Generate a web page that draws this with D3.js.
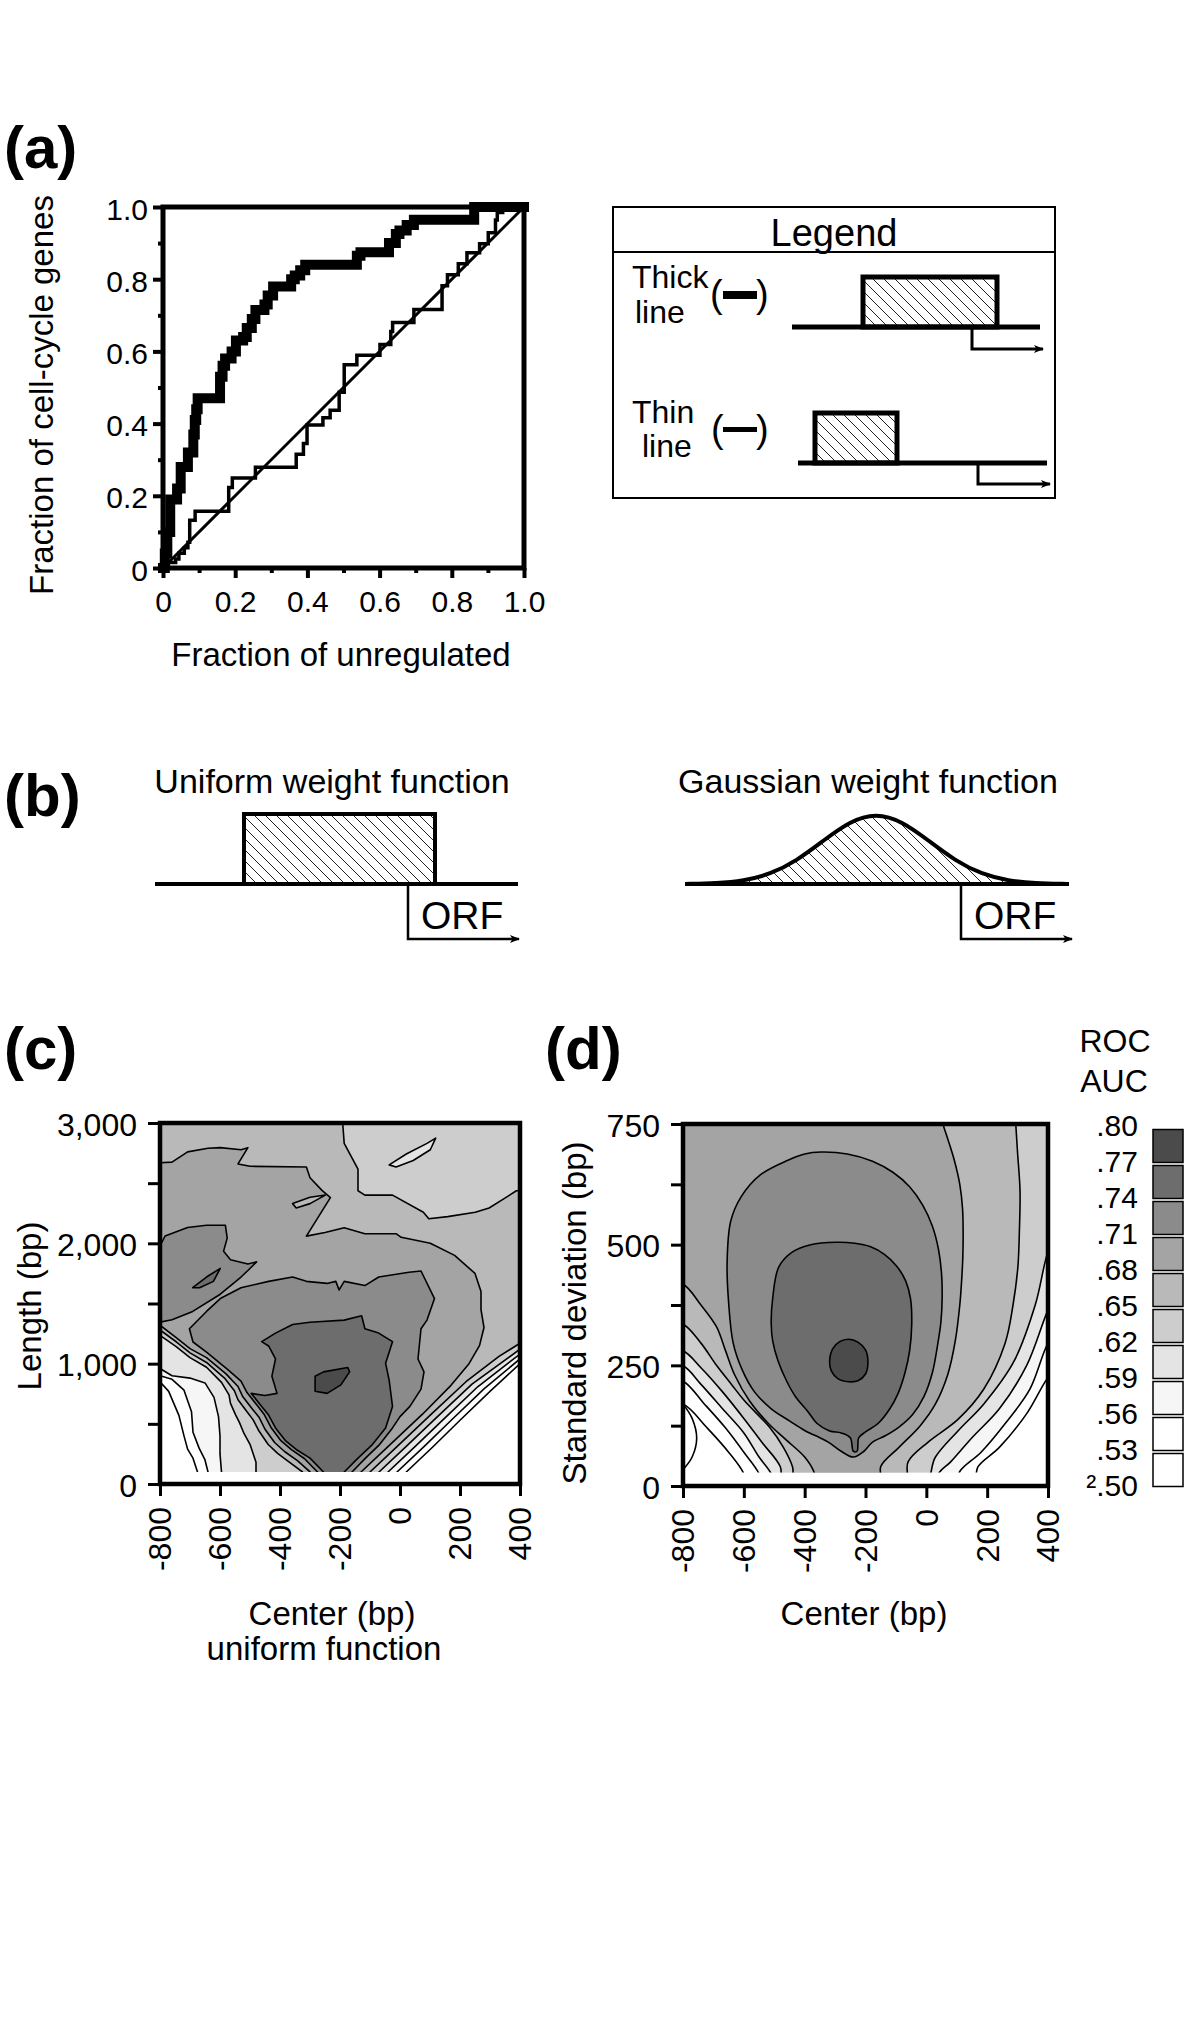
<!DOCTYPE html>
<html><head><meta charset="utf-8">
<script src="https://cdn.jsdelivr.net/npm/d3@7"></script>
<style>body{margin:0;background:#fff}svg{display:block}</style>
</head><body><svg id="fig" width="1200" height="2032"></svg>
<script>
// ================= DATA =================
// (a) ROC curves (step points: x where the jump happens, new y)
const rocTicks=[0,0.2,0.4,0.6,0.8,1.0];
const rocTickLabels=["0","0.2","0.4","0.6","0.8","1.0"];
const rocMinor=[0.1,0.3,0.5,0.7,0.9];
const thickFPR=[0,0.005,0.012,0.020,0.039,0.049,0.069,0.084,0.088,0.092,0.096,0.158,0.165,0.172,0.190,0.202,0.222,0.232,0.246,0.256,0.281,0.290,0.305,0.355,0.365,0.380,0.394,0.537,0.547,0.626,0.645,0.655,0.675,0.695,0.862,1.0];
const thickTPR=[0,0.04,0.10,0.19,0.22,0.28,0.32,0.37,0.41,0.44,0.47,0.53,0.56,0.58,0.60,0.63,0.64,0.665,0.69,0.715,0.73,0.755,0.78,0.80,0.81,0.825,0.84,0.865,0.875,0.90,0.925,0.935,0.95,0.965,1.0,1.0];
const thinFPR=[0,0.015,0.035,0.044,0.059,0.069,0.074,0.089,0.182,0.192,0.256,0.369,0.389,0.399,0.443,0.463,0.488,0.502,0.537,0.601,0.631,0.636,0.695,0.773,0.788,0.818,0.842,0.877,0.901,0.921,0.926,0.941,1.0];
const thinTPR=[0,0.015,0.025,0.041,0.056,0.071,0.132,0.157,0.223,0.249,0.279,0.315,0.345,0.396,0.416,0.437,0.487,0.563,0.589,0.619,0.655,0.680,0.716,0.782,0.812,0.843,0.873,0.898,0.929,0.964,0.985,1.0,1.0];
const diagFPR=[0,1], diagTPR=[0,1];

// (b) gaussian weight function samples (offset in sd units, relative weight)
const gaussU=[-3.6,-3,-2.5,-2,-1.5,-1,-0.5,0,0.5,1,1.5,2,2.5,3,3.6];
const gaussW=[0,0.011,0.044,0.135,0.325,0.607,0.882,1,0.882,0.607,0.325,0.135,0.044,0.011,0];

// (c),(d) axes
const centerTicks=[-800,-600,-400,-200,0,200,400];
const lengthTicks=[0,1000,2000,3000];
const lengthMinor=[500,1500,2500];
const sdTicks=[0,250,500,750];
const sdMinor=[125,375,625];

// ROC AUC colour key
const aucLevels=[0.50,0.53,0.56,0.59,0.62,0.65,0.68,0.71,0.74,0.77,0.80];
const aucLabels=[".80",".77",".74",".71",".68",".65",".62",".59",".56",".53","\u00B2.50"];
const bandColors=["#ffffff","#ffffff","#f6f6f6","#e4e4e4","#cdcdcd","#b9b9b9","#a4a4a4","#8b8b8b","#6d6d6d","#4b4b4b"];

// (c) uniform function: contour boundaries, [center bp, length bp]
const lb53=[[-800,850],[-771,770],[-737,570],[-720,400],[-708,290],[-690,215],[-675,100]];
const lb56=[[-800,900],[-760,870],[-720,780],[-695,600],[-690,430],[-670,300],[-650,200],[-640,100]];
const lb59=[[-800,960],[-760,900],[-700,880],[-650,840],[-620,720],[-605,560],[-600,400],[-600,250],[-595,100]];
const lb62=[[-800,1235],[-745,1140],[-700,1050],[-645,970],[-595,845],[-570,740],[-565,670],[-548,575],[-535,510],[-520,420],[-500,330],[-490,255],[-480,180],[-480,100]];
const lb65=[[-800,1280],[-745,1180],[-700,1090],[-645,1010],[-585,880],[-552,775],[-540,700],[-510,600],[-490,535],[-470,440],[-440,330],[-408,255],[-368,180],[-325,100]];
const lb68=[[-800,1320],[-745,1215],[-700,1125],[-645,1050],[-580,915],[-540,810],[-525,730],[-493,625],[-470,555],[-450,455],[-418,345],[-385,270],[-342,195],[-300,100]];
const lb71=[[-702,1290],[-690,1180],[-645,1095],[-576,955],[-530,855],[-510,760],[-475,650],[-452,575],[-430,470],[-397,360],[-362,285],[-318,210],[-275,100]];
const rb53=[[21,100],[110,310],[200,530],[300,770],[400,1000]];
const rb56=[[-10,100],[80,310],[175,540],[280,790],[400,1040]];
const rb59=[[-40,100],[50,310],[150,550],[260,810],[400,1080]];
const rb62=[[-70,100],[20,310],[125,560],[240,830],[400,1120]];
const rb65=[[-100,100],[-10,310],[100,570],[220,850],[330,1060],[400,1170]];
const rb68=[[-130,100],[-40,310],[75,580],[170,820]];
const rb71=[[-160,100],[-115,215],[-70,323],[-25,466],[0,560]];
const top65=[[-850,3050],[-191,3050],[-191,3000],[-186,2831],[-140,2616],[-140,2437],[-117,2401],[-25,2401],[78,2258],[96,2204],[159,2222],[251,2258],[297,2294],[343,2365],[388,2437],[450,2450]];
const top68=[[-850,2670],[-800,2670],[-760,2675],[-708,2760],[-640,2790],[-599,2795],[-530,2778],[-507,2795],[-540,2660],[-500,2640],[-312,2634],[-300,2545],[-260,2440],[-232,2380],[-312,2060],[-250,2090],[-186,2130],[-117,2080],[-13,2080],[4,2050],[101,2000],[182,1900],[250,1750],[270,1600],[270,1450],[280,1300],[265,1150],[230,1000]];
const c71Left=[[-850,2010],[-794,2007],[-783,2061],[-708,2132],[-645,2150],[-582,2150],[-576,2043],[-588,1935],[-565,1864],[-507,1828],[-478,1846],[-507,1774],[-530,1720],[-599,1577],[-691,1434],[-760,1365],[-800,1345],[-850,1345]];
const c71Upper=[[-702,1290],[-645,1434],[-599,1541],[-530,1631],[-438,1684],[-358,1720],[-312,1684],[-243,1667],[-214,1684],[-203,1613],[-186,1684],[-117,1649],[-71,1720],[30,1760],[70,1770],[115,1541],[90,1362],[70,1290],[60,1039],[80,932],[70,788],[33,645]];
const c74=[[-461,1183],[-415,1254],[-358,1326],[-300,1344],[-186,1362],[-128,1398],[-117,1290],[-71,1254],[-25,1183],[-48,1004],[-36,860],[-25,645],[-48,466],[-94,323],[-140,215],[-186,100],[-186,50],[-255,50],[-255,100],[-300,215],[-346,287],[-381,358],[-415,466],[-438,573],[-461,645],[-496,753],[-450,735],[-410,753],[-427,896],[-415,1039],[-438,1147]];
const c74Left=[[-691,1631],[-645,1720],[-599,1792],[-622,1684],[-668,1631]];
const c77=[[-283,896],[-255,932],[-174,968],[-168,932],[-197,824],[-243,753],[-283,771]];
const islandT=[[-36,2652],[21,2742],[90,2831],[119,2874],[101,2778],[44,2688],[-13,2634]];
const island68=[[-358,2330],[-300,2383],[-249,2401],[-300,2330],[-346,2294]];

// (d) gaussian function: contour regions, [center bp, sd bp]
const d53=[[-850,800],[-850,170],[-800,170],[-720,120],[-650,70],[-600,25],[-595,0],[150,0],[170,40],[240,80],[330,150],[400,225],[450,260],[450,800]];
const d56=[[-850,800],[-850,217],[-800,217],[-730,170],[-660,120],[-600,70],[-550,25],[-545,0],[100,0],[110,30],[180,70],[260,130],[340,200],[400,296],[450,340],[450,800]];
const d59=[[-850,800],[-850,249],[-800,249],[-740,210],[-670,160],[-600,110],[-550,60],[-510,25],[-505,0],[40,0],[40,25],[80,50],[150,100],[240,160],[330,250],[400,365],[450,430],[450,800]];
const d62=[[-850,800],[-850,280],[-800,280],[-741,245],[-670,195],[-600,140],[-540,90],[-480,40],[-470,0],[-10,0],[30,60],[104,114],[189,170],[287,257],[358,375],[400,486],[450,560],[450,800]];
const d65=[[-850,800],[-850,335],[-800,335],[-741,296],[-690,250],[-640,210],[-600,178],[-516,122],[-470,80],[-440,40],[-430,0],[-70,0],[-60,50],[6,91],[104,138],[189,201],[259,296],[285,375],[301,454],[306,530],[308,612],[300,690],[294,750],[290,800]];
const d68=[[-850,800],[-850,418],[-800,418],[-741,375],[-690,330],[-660,280],[-630,230],[-580,175],[-520,130],[-460,95],[-400,60],[-370,30],[-360,0],[-150,0],[-150,40],[-90,80],[-20,125],[30,170],[70,230],[95,300],[110,375],[116,425],[120,475],[121,525],[119,575],[110,625],[92,675],[70,720],[55,750],[45,800]];
const d71=[[-346,692],[-260,688],[-177,673],[-110,650],[-55,620],[-12,582],[20,538],[40,490],[50,440],[52,390],[48,340],[38,296],[20,235],[-8,185],[-45,148],[-90,122],[-135,104],[-177,91],[-205,72],[-240,60],[-280,72],[-320,90],[-350,100],[-400,115],[-450,135],[-510,160],[-565,195],[-605,240],[-635,296],[-650,380],[-655,462],[-643,549],[-608,600],[-545,645],[-455,675],[-400,688]];
const d74=[[-297,505],[-235,503],[-185,496],[-138,480],[-98,456],[-68,425],[-52,388],[-48,335],[-55,280],[-70,235],[-92,193],[-120,160],[-158,130],[-200,112],[-222,100],[-228,72],[-240,72],[-250,100],[-280,110],[-318,114],[-360,130],[-389,154],[-430,185],[-459,217],[-488,260],[-505,300],[-510,336],[-505,390],[-485,454],[-440,485],[-380,500]];
const d77=[[-255,304],[-225,298],[-200,282],[-192,257],[-200,232],[-225,218],[-255,216],[-290,222],[-312,238],[-318,257],[-308,284],[-285,299]];
const d50line=[[-800,170],[-770,140],[-755,99],[-770,60],[-797,36]];

// ================= DRAWING =================
const FONT='"Liberation Sans", Arial, Helvetica, sans-serif';
const svg=d3.select('#fig');
const defs=svg.append('defs');
const pat=defs.append('pattern').attr('id','hatch').attr('patternUnits','userSpaceOnUse').attr('width',11).attr('height',11);
pat.append('path').attr('d','M0,0 L11,11 M10,-1 L12,1 M-1,10 L1,12').attr('stroke','#222').attr('stroke-width',1);
defs.append('marker').attr('id','arrow').attr('viewBox','0 0 10 10').attr('refX',9).attr('refY',5)
  .attr('markerWidth',11).attr('markerHeight',10).attr('markerUnits','userSpaceOnUse').attr('orient','auto')
  .append('path').attr('d','M0,1 L10,5 L0,9 L2.5,5 Z').attr('fill','#000');

function text(g,x,y,s,size,opt={}){
  const t=g.append('text').attr('x',x).attr('y',y).attr('font-family',FONT).attr('font-size',size).attr('fill','#000').text(s);
  if(opt.anchor) t.attr('text-anchor',opt.anchor);
  if(opt.weight) t.attr('font-weight',opt.weight);
  if(opt.rotate) t.attr('transform',`rotate(${opt.rotate},${x},${y})`);
  return t;
}
function styleAxis(g,size,sw){
  g.select('.domain').remove();
  g.selectAll('line').attr('stroke','#000').attr('stroke-width',sw);
  g.selectAll('text').attr('font-size',size).attr('font-family',FONT).attr('fill','#000');
}

// ---------- panel (a) ----------
const ax=d3.scaleLinear().domain([0,1]).range([163,524]);
const ay=d3.scaleLinear().domain([0,1]).range([568,207]);
text(svg,4,168,'(a)',60,{weight:'bold'});
const gA=svg.append('g');
gA.append('g').attr('transform','translate(163,0)')
  .call(d3.axisLeft(ay).tickValues(rocMinor).tickSize(5).tickFormat(''))
  .call(g=>styleAxis(g,30,4));
gA.append('g').attr('transform','translate(0,568)')
  .call(d3.axisBottom(ax).tickValues(rocMinor).tickSize(5).tickFormat(''))
  .call(g=>styleAxis(g,30,4));
gA.append('g').attr('transform','translate(163,0)')
  .call(d3.axisLeft(ay).tickValues(rocTicks).tickSize(10).tickPadding(5).tickFormat((d,i)=>rocTickLabels[i]))
  .call(g=>styleAxis(g,30,4)).call(g=>g.selectAll('text').attr('dy','0.4em'));
gA.append('g').attr('transform','translate(0,568)')
  .call(d3.axisBottom(ax).tickValues(rocTicks).tickSize(10).tickPadding(13).tickFormat((d,i)=>rocTickLabels[i]))
  .call(g=>styleAxis(g,30,4));
const stepLine=d3.line().x(d=>ax(d[0])).y(d=>ay(d[1])).curve(d3.curveStepAfter);
gA.append('path').attr('d',d3.line().x(d=>ax(d[0])).y(d=>ay(d[1]))(d3.zip(diagFPR,diagTPR)))
  .attr('fill','none').attr('stroke','#000').attr('stroke-width',3);
gA.append('path').attr('d',stepLine(d3.zip(thinFPR,thinTPR)))
  .attr('fill','none').attr('stroke','#000').attr('stroke-width',3.5).attr('stroke-linejoin','miter');
gA.append('path').attr('d',stepLine(d3.zip(thickFPR,thickTPR)))
  .attr('fill','none').attr('stroke','#000').attr('stroke-width',10).attr('stroke-linejoin','miter').attr('stroke-linecap','square');
gA.append('rect').attr('x',163).attr('y',207).attr('width',361).attr('height',361)
  .attr('fill','none').attr('stroke','#000').attr('stroke-width',5);
text(gA,53,395,'Fraction of cell-cycle genes',33,{anchor:'middle',rotate:-90});
text(gA,341,666,'Fraction of unregulated',33,{anchor:'middle'});

// legend box
const gL=svg.append('g');
gL.append('rect').attr('x',613).attr('y',207).attr('width',442).attr('height',291).attr('fill','none').attr('stroke','#000').attr('stroke-width',2);
gL.append('line').attr('x1',613).attr('x2',1055).attr('y1',252).attr('y2',252).attr('stroke','#000').attr('stroke-width',2);
text(gL,834,246,'Legend',38,{anchor:'middle'});
text(gL,632,288,'Thick',32); text(gL,635,323,'line',32);
text(gL,710,307,'(',38); text(gL,756,307,')',38);
gL.append('rect').attr('x',723).attr('y',291).attr('width',34).attr('height',8).attr('fill','#000');
text(gL,632,423,'Thin',32); text(gL,642,457,'line',32);
text(gL,711,442,'(',38); text(gL,756,442,')',38);
gL.append('rect').attr('x',723).attr('y',427).attr('width',34).attr('height',5).attr('fill','#000');
gL.append('rect').attr('x',863).attr('y',277).attr('width',134).attr('height',50).attr('fill','url(#hatch)').attr('stroke','#000').attr('stroke-width',5);
gL.append('line').attr('x1',792).attr('x2',1040).attr('y1',327).attr('y2',327).attr('stroke','#000').attr('stroke-width',5);
gL.append('path').attr('d','M972,327 V349 H1043').attr('fill','none').attr('stroke','#000').attr('stroke-width',3).attr('marker-end','url(#arrow)');
gL.append('rect').attr('x',815).attr('y',413).attr('width',82).attr('height',50).attr('fill','url(#hatch)').attr('stroke','#000').attr('stroke-width',5);
gL.append('line').attr('x1',798).attr('x2',1047).attr('y1',463).attr('y2',463).attr('stroke','#000').attr('stroke-width',5);
gL.append('path').attr('d','M978,463 V484 H1050').attr('fill','none').attr('stroke','#000').attr('stroke-width',3).attr('marker-end','url(#arrow)');

// ---------- panel (b) ----------
const gB=svg.append('g');
text(gB,4,816,'(b)',60,{weight:'bold'});
text(gB,332,793,'Uniform weight function',34,{anchor:'middle'});
text(gB,868,793,'Gaussian weight function',34,{anchor:'middle'});
gB.append('rect').attr('x',244).attr('y',814).attr('width',191).attr('height',70).attr('fill','url(#hatch)').attr('stroke','#000').attr('stroke-width',4);
gB.append('line').attr('x1',155).attr('x2',518).attr('y1',884).attr('y2',884).attr('stroke','#000').attr('stroke-width',4);
gB.append('path').attr('d','M408,884 V939 H519').attr('fill','none').attr('stroke','#000').attr('stroke-width',2.5).attr('marker-end','url(#arrow)');
text(gB,421,929,'ORF',39);
const gx=d3.scaleLinear().domain([-1,1]).range([876-53,876+53]);
const gy=d3.scaleLinear().domain([0,1]).range([884,813]);
const gLine=d3.line().x(d=>gx(d[0])).y(d=>gy(d[1])).curve(d3.curveBasis);
gB.append('path').attr('d',gLine(d3.zip(gaussU,gaussW))).attr('fill','url(#hatch)').attr('stroke','none');
gB.append('line').attr('x1',685).attr('x2',1069).attr('y1',884).attr('y2',884).attr('stroke','#000').attr('stroke-width',4);
gB.append('path').attr('d',gLine(d3.zip(gaussU,gaussW))).attr('fill','none').attr('stroke','#000').attr('stroke-width',4);
gB.append('path').attr('d','M961,884 V939 H1072').attr('fill','none').attr('stroke','#000').attr('stroke-width',2.5).attr('marker-end','url(#arrow)');
text(gB,974,929,'ORF',39);

// ---------- contour helpers ----------
function colorFor(v){const i=aucLevels.findIndex(a=>Math.abs(a-v)<1e-6);return bandColors[i];}
function rev(a){return a.slice().reverse();}
function lowRing(top,rb,lb){
  return top.concat([[450,rb[rb.length-1][1]]],rev(rb),[[rb[0][0],40],[lb[lb.length-1][0],40]],rev(lb),[[-850,lb[0][1]]]);
}
const fullTop=[[-850,3050],[450,3050]];

// ---------- panel (c) ----------
const cx=d3.scaleLinear().domain([-800,400]).range([160,520]);
const cy=d3.scaleLinear().domain([0,3000]).range([1484,1123]);
text(svg,4,1069,'(c)',60,{weight:'bold'});
defs.append('clipPath').attr('id','clipC').append('rect').attr('x',160).attr('y',cy(3000)).attr('width',360).attr('height',cy(100)-cy(3000));
const gC=svg.append('g').attr('clip-path','url(#clipC)');
const ring68=top68.concat(rev(rb68),[[rb68[0][0],40],[lb68[lb68.length-1][0],40]],rev(lb68),[[-850,lb68[0][1]]]);
const ring71=c71Upper.concat(rev(rb71),[[rb71[0][0],40],[lb71[lb71.length-1][0],40]],rev(lb71));
const cRegions=[
  {v:0.53,rings:[lowRing(fullTop,rb53,lb53)]},
  {v:0.56,rings:[lowRing(fullTop,rb56,lb56)]},
  {v:0.59,rings:[lowRing(fullTop,rb59,lb59)]},
  {v:0.62,rings:[lowRing(fullTop,rb62,lb62)]},
  {v:0.59,rings:[islandT]},
  {v:0.65,rings:[lowRing(top65,rb65,lb65)]},
  {v:0.68,rings:[ring68]},
  {v:0.65,rings:[island68]},
  {v:0.71,rings:[c71Left,ring71]},
  {v:0.74,rings:[c74,c74Left]},
  {v:0.77,rings:[c77]}
];
const cLine=d3.line().x(d=>cx(d[0])).y(d=>cy(d[1]));
cRegions.forEach(r=>{
  gC.append('path').attr('d',r.rings.map(ring=>cLine(ring)+'Z').join(''))
    .attr('fill',colorFor(r.v)).attr('stroke','#000').attr('stroke-width',1.6).attr('stroke-linejoin','round');
});
const gCa=svg.append('g');
gCa.append('g').attr('transform','translate(160,0)')
  .call(d3.axisLeft(cy).tickValues(lengthMinor).tickSize(12).tickFormat(''))
  .call(g=>styleAxis(g,32,3));
gCa.append('g').attr('transform','translate(160,0)')
  .call(d3.axisLeft(cy).tickValues(lengthTicks).tickSize(12).tickPadding(11).tickFormat(d3.format(',')))
  .call(g=>styleAxis(g,32,3)).call(g=>g.selectAll('text').attr('dy','0.375em'));
gCa.append('g').attr('transform','translate(0,1484)')
  .call(d3.axisBottom(cx).tickValues(centerTicks).tickSize(12).tickFormat(d=>String(d)))
  .call(g=>styleAxis(g,32,3))
  .call(g=>g.selectAll('text').attr('transform','rotate(-90)').attr('x',-23).attr('y',0).attr('dy','0.34em').attr('text-anchor','end'));
gCa.append('rect').attr('x',160).attr('y',1123).attr('width',360).attr('height',361).attr('fill','none').attr('stroke','#000').attr('stroke-width',4.5);
text(gCa,41,1306,'Length (bp)',33,{anchor:'middle',rotate:-90});
text(gCa,332,1625,'Center (bp)',33,{anchor:'middle'});
text(gCa,324,1660,'uniform function',33,{anchor:'middle'});

// ---------- panel (d) ----------
const dxS=d3.scaleLinear().domain([-800,400]).range([683,1048]);
const dyS=d3.scaleLinear().domain([0,750]).range([1486,1124]);
text(svg,545,1069,'(d)',60,{weight:'bold'});
defs.append('clipPath').attr('id','clipD').append('rect').attr('x',683).attr('y',dyS(750)).attr('width',365).attr('height',dyS(28)-dyS(750));
const gD=svg.append('g').attr('clip-path','url(#clipD)');
const dRegions=[
  {v:0.53,ring:d53},{v:0.56,ring:d56},{v:0.59,ring:d59},{v:0.62,ring:d62},{v:0.65,ring:d65},
  {v:0.68,ring:d68},{v:0.71,ring:d71},{v:0.74,ring:d74},{v:0.77,ring:d77}
];
const dLine=d3.line().x(d=>dxS(d[0])).y(d=>dyS(d[1])).curve(d3.curveCatmullRomClosed.alpha(0.5));
dRegions.forEach(r=>{
  gD.append('path').attr('d',dLine(r.ring)).attr('fill',colorFor(r.v)).attr('stroke','#000').attr('stroke-width',1.6);
});
gD.append('path').attr('d',d3.line().x(d=>dxS(d[0])).y(d=>dyS(d[1])).curve(d3.curveCatmullRom.alpha(0.5))(d50line))
  .attr('fill','none').attr('stroke','#000').attr('stroke-width',1.6);
const gDa=svg.append('g');
gDa.append('g').attr('transform','translate(683,0)')
  .call(d3.axisLeft(dyS).tickValues(sdMinor).tickSize(12).tickFormat(''))
  .call(g=>styleAxis(g,32,3));
gDa.append('g').attr('transform','translate(683,0)')
  .call(d3.axisLeft(dyS).tickValues(sdTicks).tickSize(12).tickPadding(11).tickFormat(d=>String(d)))
  .call(g=>styleAxis(g,32,3)).call(g=>g.selectAll('text').attr('dy','0.375em'));
gDa.append('g').attr('transform','translate(0,1486)')
  .call(d3.axisBottom(dxS).tickValues(centerTicks).tickSize(12).tickFormat(d=>String(d)))
  .call(g=>styleAxis(g,32,3))
  .call(g=>g.selectAll('text').attr('transform','rotate(-90)').attr('x',-23).attr('y',0).attr('dy','0.34em').attr('text-anchor','end'));
gDa.append('rect').attr('x',683).attr('y',1124).attr('width',365).attr('height',362).attr('fill','none').attr('stroke','#000').attr('stroke-width',4.5);
text(gDa,586,1313,'Standard deviation (bp)',33,{anchor:'middle',rotate:-90});
text(gDa,864,1625,'Center (bp)',33,{anchor:'middle'});

// ---------- colour key ----------
const gK=svg.append('g');
text(gK,1115,1052,'ROC',32,{anchor:'middle'});
text(gK,1114,1092,'AUC',32,{anchor:'middle'});
const ky=d3.scaleLinear().domain([0.50,0.80]).range([1488,1128]);
d3.range(10).forEach(i=>{
  const lo=aucLevels[i],hi=aucLevels[i+1];
  gK.append('rect').attr('x',1153).attr('y',ky(hi)+1.5).attr('width',30).attr('height',ky(lo)-ky(hi)-3)
    .attr('fill',bandColors[i]).attr('stroke','#000').attr('stroke-width',1.5);
});
aucLabels.forEach((s,i)=>{
  const v=aucLevels[aucLevels.length-1-i];
  text(gK,1138,ky(v)+8,s,30,{anchor:'end'});
});
</script></body></html>
